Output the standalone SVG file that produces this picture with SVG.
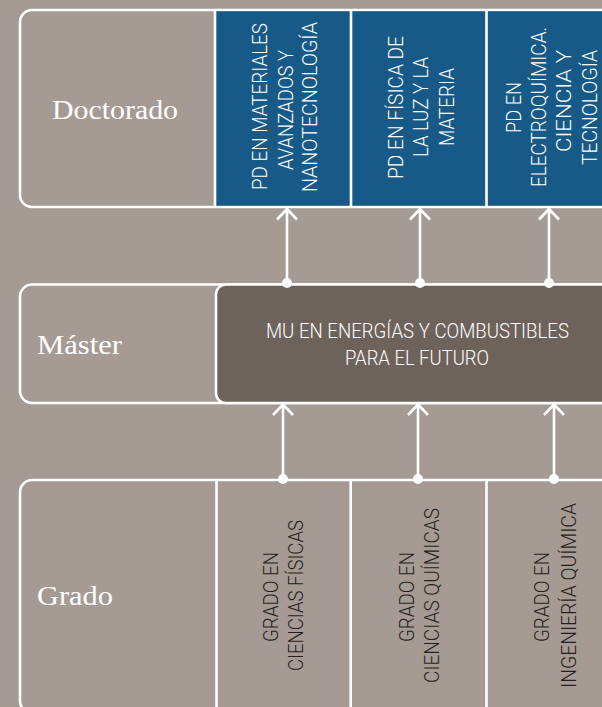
<svg xmlns="http://www.w3.org/2000/svg" width="602" height="707" viewBox="0 0 602 707">
<style>
.frame{fill:#a69b94;stroke:#ffffff;stroke-width:2.5}
.sep{stroke:#ffffff;stroke-width:2.6}
.blue{fill:#175a88}
.dark{fill:#6e635b;stroke:#ffffff;stroke-width:2.5}
.lvl{font-family:"Liberation Serif",serif;font-size:27px;fill:#ffffff}
.wt{font-family:Roboto,"Liberation Sans",sans-serif;font-size:21px;font-weight:300;fill:#ffffff;text-anchor:middle}
.bt{font-family:Roboto,"Liberation Sans",sans-serif;font-size:21px;font-weight:300;fill:#231f20;text-anchor:middle}
.mt{font-family:Roboto,"Liberation Sans",sans-serif;font-size:20px;font-weight:300;fill:#ffffff;text-anchor:middle}
.con{stroke:#ffffff;stroke-width:2.6;fill:none}
.dot{fill:#ffffff}
</style>
<rect width="602" height="707" fill="#a69b94"/>

<g id="doctorado">
<rect class="frame" x="20" y="10" width="640" height="197" rx="12"/>
<rect class="blue" x="215" y="11.3" width="440" height="194.4"/>
<line class="sep" x1="215" y1="10" x2="215" y2="207"/>
<line class="sep" x1="351" y1="10" x2="351" y2="207"/>
<line class="sep" x1="486.5" y1="10" x2="486.5" y2="207"/>
<text class="lvl" x="52" y="119" textLength="126" lengthAdjust="spacingAndGlyphs">Doctorado</text>
</g>

<g id="pd-materiales">
<text class="wt" transform="translate(267,106.5) rotate(-90)" textLength="167" lengthAdjust="spacingAndGlyphs">PD EN MATERIALES</text>
<text class="wt" transform="translate(293,110) rotate(-90)" textLength="120" lengthAdjust="spacingAndGlyphs">AVANZADOS Y</text>
<text class="wt" transform="translate(317,107) rotate(-90)" textLength="170" lengthAdjust="spacingAndGlyphs">NANOTECNOLOGÍA</text>
</g>

<g id="pd-fisica">
<text class="wt" transform="translate(403,107.5) rotate(-90)" textLength="143" lengthAdjust="spacingAndGlyphs">PD EN FÍSICA DE</text>
<text class="wt" transform="translate(428,107) rotate(-90)" textLength="100" lengthAdjust="spacingAndGlyphs">LA LUZ Y LA</text>
<text class="wt" transform="translate(454,107) rotate(-90)" textLength="78" lengthAdjust="spacingAndGlyphs">MATERIA</text>
</g>

<g id="pd-electroquimica">
<text class="wt" transform="translate(521,107.5) rotate(-90)" textLength="51" lengthAdjust="spacingAndGlyphs">PD EN</text>
<text class="wt" transform="translate(546,107) rotate(-90)" textLength="160" lengthAdjust="spacingAndGlyphs">ELECTROQUÍMICA.</text>
<text class="wt" transform="translate(571,101) rotate(-90)" textLength="102" lengthAdjust="spacingAndGlyphs">CIENCIA Y</text>
<text class="wt" transform="translate(597,107.5) rotate(-90)" textLength="115" lengthAdjust="spacingAndGlyphs">TECNOLOGÍA</text>
</g>

<g id="master">
<rect class="frame" x="20" y="284.5" width="640" height="118.5" rx="12"/>
<text class="lvl" x="37" y="354" textLength="85" lengthAdjust="spacingAndGlyphs">Máster</text>
</g>

<g id="mu-energias">
<rect class="dark" x="216" y="284.5" width="444" height="118.5" rx="10"/>
<text class="mt" x="417.5" y="338" textLength="303" lengthAdjust="spacingAndGlyphs">MU EN ENERGÍAS Y COMBUSTIBLES</text>
<text class="mt" x="417" y="365" textLength="144" lengthAdjust="spacingAndGlyphs">PARA EL FUTURO</text>
</g>

<g id="grado">
<rect class="frame" x="20" y="480" width="640" height="233" rx="12"/>
<line class="sep" x1="216.5" y1="480" x2="216.5" y2="707"/>
<line class="sep" x1="350.7" y1="480" x2="350.7" y2="707"/>
<line class="sep" x1="486.5" y1="480" x2="486.5" y2="707"/>
<text class="lvl" x="37" y="605" textLength="76" lengthAdjust="spacingAndGlyphs">Grado</text>
</g>

<g id="grado-fisicas">
<text class="bt" transform="translate(278,597) rotate(-90)" textLength="90" lengthAdjust="spacingAndGlyphs">GRADO EN</text>
<text class="bt" transform="translate(303,595.5) rotate(-90)" textLength="151" lengthAdjust="spacingAndGlyphs">CIENCIAS FÍSICAS</text>
</g>

<g id="grado-quimicas">
<text class="bt" transform="translate(414,597) rotate(-90)" textLength="90" lengthAdjust="spacingAndGlyphs">GRADO EN</text>
<text class="bt" transform="translate(439,595.5) rotate(-90)" textLength="175" lengthAdjust="spacingAndGlyphs">CIENCIAS QUÍMICAS</text>
</g>

<g id="grado-ingenieria">
<text class="bt" transform="translate(549,597) rotate(-90)" textLength="90" lengthAdjust="spacingAndGlyphs">GRADO EN</text>
<text class="bt" transform="translate(576,595.5) rotate(-90)" textLength="185" lengthAdjust="spacingAndGlyphs">INGENIERÍA QUÍMICA</text>
</g>

<g id="connectors">
<path class="con" d="M287 283V209M277 219.5L287 209L297 219.5"/>
<path class="con" d="M420 283V209M410 219.5L420 209L430 219.5"/>
<path class="con" d="M549 283V209M539 219.5L549 209L559 219.5"/>
<circle class="dot" cx="287" cy="283" r="5"/>
<circle class="dot" cx="420" cy="283" r="5"/>
<circle class="dot" cx="549" cy="283" r="5"/>
<path class="con" d="M283 479V404.5M273 415L283 404.5L293 415"/>
<path class="con" d="M418 479V404.5M408 415L418 404.5L428 415"/>
<path class="con" d="M554 479V404.5M544 415L554 404.5L564 415"/>
<circle class="dot" cx="283" cy="479" r="5"/>
<circle class="dot" cx="418" cy="479" r="5"/>
<circle class="dot" cx="554" cy="479" r="5"/>
</g>
</svg>
